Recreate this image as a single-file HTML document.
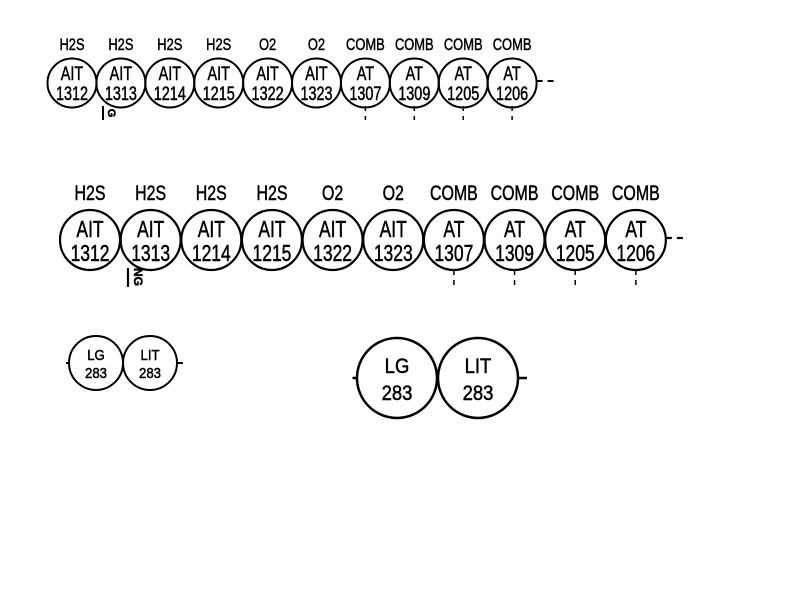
<!DOCTYPE html>
<html><head><meta charset="utf-8">
<style>
html,body{margin:0;padding:0;background:#fff;}
svg{display:block;}
text{font-family:"Liberation Sans",sans-serif;fill:#000;text-anchor:middle;stroke:#000;stroke-width:0.5;}
</style></head>
<body>
<svg id="dia" width="800" height="600" viewBox="0 0 800 600"></svg>
<script>
const services = ["H2S","H2S","H2S","H2S","O2","O2","COMB","COMB","COMB","COMB"];
const tags = ["AIT","AIT","AIT","AIT","AIT","AIT","AT","AT","AT","AT"];
const numbers = ["1312","1313","1214","1215","1322","1323","1307","1309","1205","1206"];
const pairTags = ["LG","LIT"];
const pairNumbers = ["283","283"];

const svg = document.getElementById('dia');
const NS = "http://www.w3.org/2000/svg";
function mk(tag, attrs){const e=document.createElementNS(NS,tag);for(const k in attrs)e.setAttribute(k,attrs[k]);svg.appendChild(e);return e;}
function txt(x,y,s,size,sx){const t=mk('text',{x:0,y:0,'font-size':size,transform:`translate(${x},${y}) scale(${sx},1)`});t.textContent=s;return t;}

function row(x0, step, cy, r, labelY, fs, fsIn, sx, sw, tickTop, tickLen){
  services.forEach((s,i)=>{
    const cx = x0 + i*step;
    const l = txt(cx, labelY, s, fs, sx);
    
    
    const c = mk('circle',{cx:cx,cy:cy,r:r,fill:'none',stroke:'#000','stroke-width':sw});
    
    
    const t1 = txt(cx, cy-3, tags[i], fsIn, sx);
    
    
    const t2 = txt(cx, cy+r*0.7, numbers[i], fsIn, sx);
    
    
    if(tags[i]==="AT"){
      const tk = mk('line',{x1:cx,y1:tickTop,x2:cx,y2:tickTop+tickLen,stroke:'#000','stroke-width':1.5,'stroke-dasharray':'5 5'});
      
      
    }
  });
  const lastX = x0 + (services.length-1)*step + r;
  const d = mk('line',{x1:lastX,y1:cy-2,x2:lastX+18,y2:cy-2,stroke:'#000','stroke-width':sw,'stroke-dasharray':'6 5'});
  
  
}
row(72, 48.9, 83, 24.5, 50, 17, 19, 0.76, 2, 106, 14);
row(90, 60.65, 240, 30, 200, 21, 23, 0.76, 2.2, 270, 18);

const g1 = mk('line',{x1:103,y1:106,x2:103,y2:120,stroke:'#000','stroke-width':2});


const gt1 = mk('text',{x:0,y:0,'font-size':11,'font-weight':'bold',transform:'translate(108,113) rotate(90)'});
gt1.textContent="G";


const g2 = mk('line',{x1:128,y1:268,x2:128,y2:287,stroke:'#000','stroke-width':2.2});


const gt2 = mk('text',{x:0,y:0,'font-size':12,'font-weight':'bold',transform:'translate(134,277) rotate(90)'});
gt2.textContent="NG";



function pair(x0, step, cy, r, fs, sw, lead){
  pairTags.forEach((t,i)=>{
    const cx = x0 + i*step;
    const c = mk('circle',{cx:cx,cy:cy,r:r,fill:'none',stroke:'#000','stroke-width':sw});
    
    
    const a = txt(cx, cy-r*0.12, t, fs, 0.88);
    
    
    const b = txt(cx, cy+r*0.55, pairNumbers[i], fs, 0.88);
    
    
  });
  const l1 = mk('line',{x1:x0-r-lead*0.5,y1:cy,x2:x0-r,y2:cy,stroke:'#000','stroke-width':sw});
  
  
  const rx = x0+step+r;
  const l2 = mk('line',{x1:rx,y1:cy,x2:rx+lead,y2:cy,stroke:'#000','stroke-width':sw});
  
  
}
pair(96, 54, 363, 27, 15, 2, 6);
pair(397, 81, 378, 40, 21, 2.5, 9);
</script>
</body></html>
